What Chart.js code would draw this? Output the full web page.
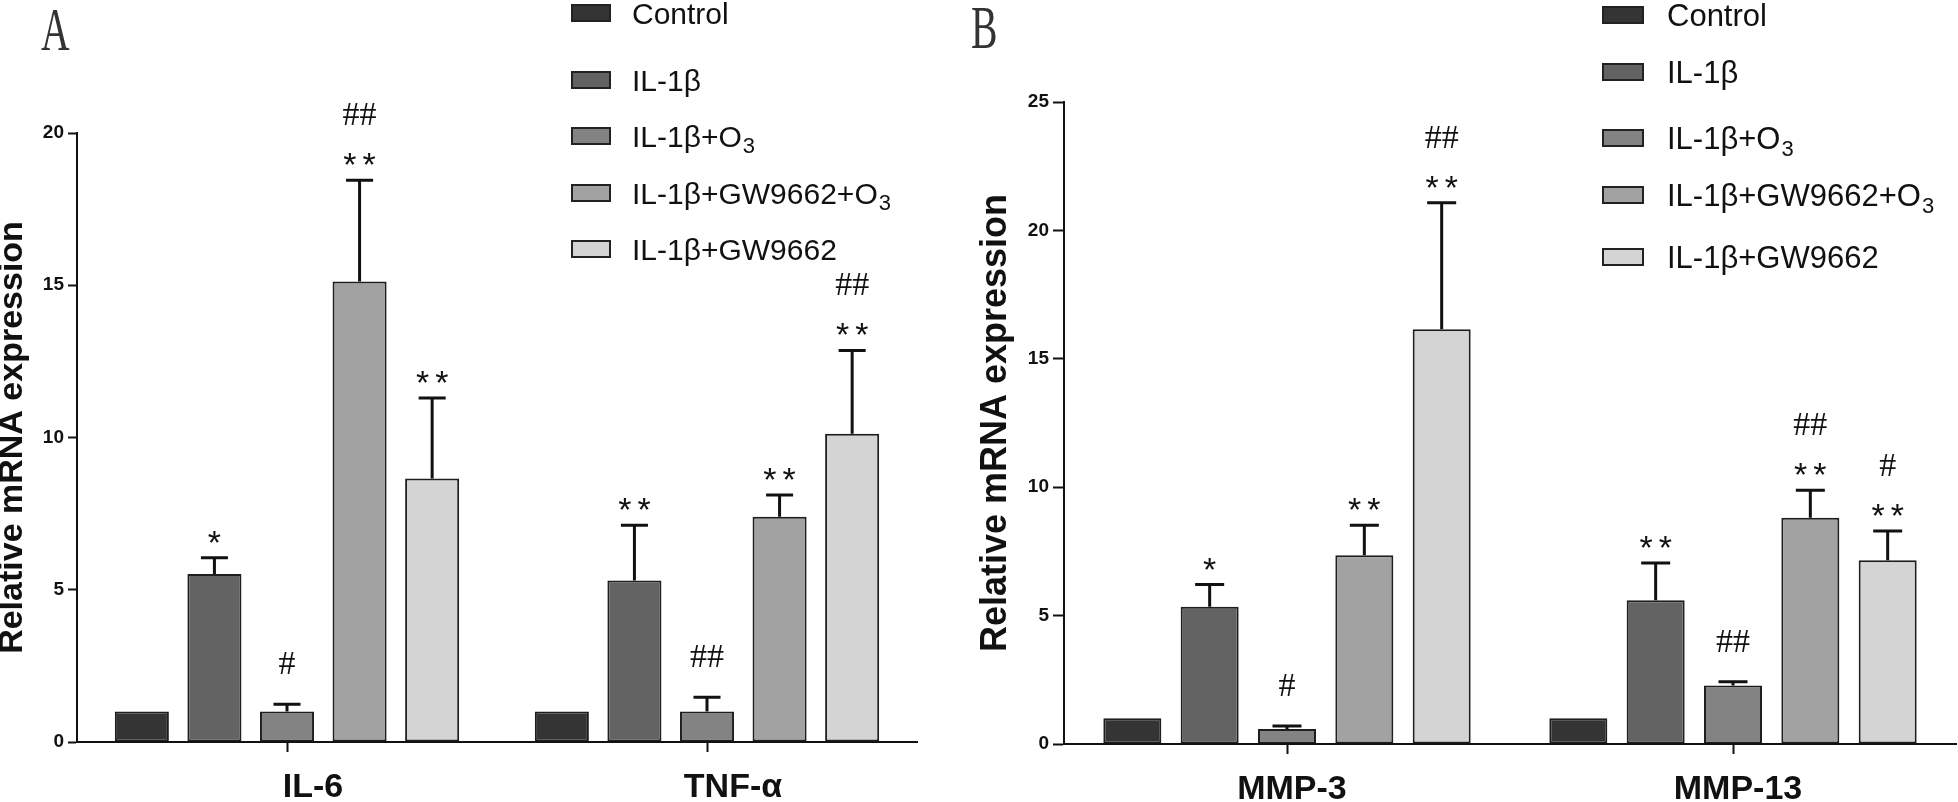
<!DOCTYPE html>
<html><head><meta charset="utf-8">
<script src="https://cdn.jsdelivr.net/npm/chart.js@4.4.0/dist/chart.umd.min.js"></script>
<style>
html,body{margin:0;padding:0;background:#fff;width:1958px;height:802px;overflow:hidden}
#a{position:absolute;left:0;top:0}
#b{position:absolute;left:960px;top:0}
</style></head><body>
<canvas id="a" width="960" height="802"></canvas>
<canvas id="b" width="998" height="802"></canvas>
<script>
// ---------- data ----------
const groups = ['Control', 'IL-1β', 'IL-1β+O3', 'IL-1β+GW9662+O3', 'IL-1β+GW9662'];
const groupColors = ['#343434', '#636363', '#838383', '#a2a2a2', '#d4d4d4'];

// Panel A
const categoriesA = ['IL-6', 'TNF-α'];
const controlA   = [1.0, 1.0];
const il1bA      = [5.52, 5.30];
const o3A        = [1.0, 1.0];
const gwO3A      = [15.12, 7.40];
const gwA        = [8.65, 10.12];
const controlErrA = [0, 0];
const il1bErrA    = [0.53, 1.82];
const o3ErrA      = [0.24, 0.47];
const gwO3ErrA    = [3.33, 0.71];
const gwErrA      = [2.65, 2.74];
const controlSigA = ['', ''];
const il1bSigA    = ['*', '**'];
const o3SigA      = ['#', '##'];
const gwO3SigA    = ['**|##', '**'];
const gwSigA      = ['**', '**|##'];
const yTicksA = [0, 5, 10, 15, 20];

// Panel B
const categoriesB = ['MMP-3', 'MMP-13'];
const controlB   = [1.0, 1.0];
const il1bB      = [5.34, 5.60];
const o3B        = [0.58, 2.28];
const gwO3B      = [7.35, 8.81];
const gwB        = [16.15, 7.16];
const controlErrB = [0, 0];
const il1bErrB    = [0.87, 1.45];
const o3ErrB      = [0.12, 0.14];
const gwO3ErrB    = [1.17, 1.07];
const gwErrB      = [4.93, 1.13];
const controlSigB = ['', ''];
const il1bSigB    = ['*', '**'];
const o3SigB      = ['#', '##'];
const gwO3SigB    = ['**', '**|##'];
const gwSigB      = ['**|##', '**|#'];
const yTicksB = [0, 5, 10, 15, 20, 25];

const yTitle = 'Relative mRNA expression';

// ---------- helpers ----------
function drawMarks(ctx, text, x, cy) {
  ctx.fillStyle = '#111';
  ctx.textBaseline = 'alphabetic';
  if (text[0] === '*') {
    ctx.font = '34px "Liberation Sans", Arial, sans-serif';
    ctx.textAlign = 'left';
    const n = text.length, w = ctx.measureText('*').width, gap = 6;
    const total = n * w + (n - 1) * gap;
    const sx = x - total / 2;
    for (let k = 0; k < n; k++) ctx.fillText('*', sx + k * (w + gap), cy + 19);
  } else {
    ctx.font = '34px "Liberation Serif", "Times New Roman", serif';
    ctx.textAlign = 'center';
    ctx.fillText(text, x, cy + 12);
  }
}

function errPlugin(errs, sigs) {
  return {
    id: 'errbars',
    afterDatasetsDraw(chart) {
      const ctx = chart.ctx, ys = chart.scales.y;
      ctx.save();
      chart.data.datasets.forEach((ds, i) => {
        const meta = chart.getDatasetMeta(i);
        meta.data.forEach((el, j) => {
          const v = ds.data[j], e = errs[i][j];
          const top = ys.getPixelForValue(v + e);
          if (e > 0) {
            ctx.strokeStyle = '#111';
            ctx.lineWidth = 3;
            ctx.beginPath();
            ctx.moveTo(el.x, el.y);
            ctx.lineTo(el.x, top);
            const hw = el.width / 4;
            ctx.moveTo(el.x - hw, top);
            ctx.lineTo(el.x + hw, top);
            ctx.stroke();
          }
          const s = sigs[i][j];
          if (s) {
            const parts = s.split('|');
            let cy = top - (parts[0][0] === '*' ? 23 : 42);
            parts.forEach(p => { drawMarks(ctx, p, el.x, cy); cy -= 44; });
          }
        });
      });
      ctx.restore();
    }
  };
}

function decorPlugin(cfg) {
  return {
    id: 'decor',
    afterDraw(chart) {
      const ctx = chart.ctx;
      ctx.save();
      chart.data.datasets.forEach((ds, i) => {
        const cy = cfg.rows[i];
        ctx.fillStyle = ds.backgroundColor;
        ctx.strokeStyle = '#222';
        ctx.lineWidth = 2;
        ctx.fillRect(cfg.boxX, cy - cfg.boxH / 2, cfg.boxW, cfg.boxH);
        ctx.strokeRect(cfg.boxX, cy - cfg.boxH / 2, cfg.boxW, cfg.boxH);
        let label = ds.label, sub = null;
        if (label.endsWith('O3')) { label = label.slice(0, -1); sub = '3'; }
        ctx.fillStyle = '#111';
        ctx.textAlign = 'left';
        ctx.textBaseline = 'alphabetic';
        ctx.font = cfg.size + 'px "Liberation Sans", Arial, sans-serif';
        const base = cy + cfg.size * 0.358;
        ctx.fillText(label, cfg.textX, base);
        if (sub) {
          const w = ctx.measureText(label).width;
          ctx.font = Math.round(cfg.size * 0.72) + 'px "Liberation Sans", Arial, sans-serif';
          ctx.fillText(sub, cfg.textX + w + 1, base + cfg.size * 0.22);
        }
      });
      // panel letter
      ctx.fillStyle = '#333';
      ctx.font = '62px "Liberation Serif", "Times New Roman", serif';
      ctx.textAlign = 'left';
      ctx.textBaseline = 'alphabetic';
      ctx.translate(cfg.letterX, cfg.letterBase);
      ctx.scale(0.64, 1);
      ctx.fillText(cfg.letter, 0, 0);
      ctx.restore();
    }
  };
}

function makeChart(id, cats, series, errs, sigs, yTicks, L) {
  const datasets = groups.map((g, i) => ({
    label: g,
    data: series[i],
    backgroundColor: groupColors[i],
    borderColor: '#1e1e1e',
    borderWidth: 2,
    borderSkipped: false,
    categoryPercentage: L.catPct,
    barPercentage: L.barPct
  }));
  return new Chart(document.getElementById(id), {
    type: 'bar',
    data: { labels: cats, datasets },
    options: {
      responsive: false,
      animation: false,
      devicePixelRatio: 1,
      layout: { padding: { left: 0, right: L.padRight, top: L.padTop, bottom: 0 } },
      plugins: { legend: { display: false }, tooltip: { enabled: false } },
      scales: {
        x: {
          afterFit: s => { s.height = L.xHeight; },
          grid: { drawOnChartArea: false, offset: false, tickLength: 10, tickWidth: 2, color: '#111' },
          border: { display: true, color: '#111', width: 2 },
          ticks: {
            color: '#111', maxRotation: 0, autoSkip: false, padding: L.xPad,
            labelOffset: L.labelOffset,
            font: { family: '"Liberation Sans Narrow", "Liberation Sans", Arial, sans-serif', size: L.xFont, weight: 'bold' }
          }
        },
        y: {
          min: yTicks[0], max: yTicks[yTicks.length - 1],
          afterFit: s => { s.width = L.yWidth; },
          afterBuildTicks: s => { s.ticks = yTicks.map(v => ({ value: v })); },
          grid: { drawOnChartArea: false, tickLength: L.tickLen, tickWidth: 2, color: '#111' },
          border: { display: true, color: '#111', width: 2 },
          ticks: {
            color: '#111', padding: 4,
            font: { family: '"Liberation Sans", Arial, sans-serif', size: 19, weight: 'bold' }
          },
          title: {
            display: true, text: yTitle, color: '#111',
            padding: { top: L.titlePad, bottom: 0 },
            font: { family: '"Liberation Sans", Arial, sans-serif', size: L.titleFont, weight: 'bold', lineHeight: 1 }
          }
        }
      }
    },
    plugins: [errPlugin(errs, sigs), decorPlugin(L.decor)]
  });
}

makeChart('a', categoriesA,
  [controlA, il1bA, o3A, gwO3A, gwA],
  [controlErrA, il1bErrA, o3ErrA, gwO3ErrA, gwErrA],
  [controlSigA, il1bSigA, o3SigA, gwO3SigA, gwSigA],
  yTicksA,
  { catPct: 0.864, barPct: 0.745, padRight: 43, padTop: 133, xHeight: 60, yWidth: 77,
    tickLen: 9, xPad: 15, xFont: 34, labelOffset: 26, titleFont: 34, titlePad: -4,
    decor: { rows: [13, 80, 136, 193, 249], boxX: 572, boxW: 38, boxH: 16, textX: 632, size: 30,
             letter: 'A', letterX: 41, letterBase: 50 } });

makeChart('b', categoriesB,
  [controlB, il1bB, o3B, gwO3B, gwB],
  [controlErrB, il1bErrB, o3ErrB, gwO3ErrB, gwErrB],
  [controlSigB, il1bSigB, o3SigB, gwO3SigB, gwSigB],
  yTicksB,
  { catPct: 0.867, barPct: 0.75, padRight: 2, padTop: 102, xHeight: 58, yWidth: 104,
    tickLen: 11, xPad: 15, xFont: 34, labelOffset: 5, titleFont: 36, titlePad: 18,
    decor: { rows: [15, 72, 138, 195, 257], boxX: 643, boxW: 40, boxH: 16, textX: 707, size: 31,
             letter: 'B', letterX: 11, letterBase: 48 } });
</script>
</body></html>
